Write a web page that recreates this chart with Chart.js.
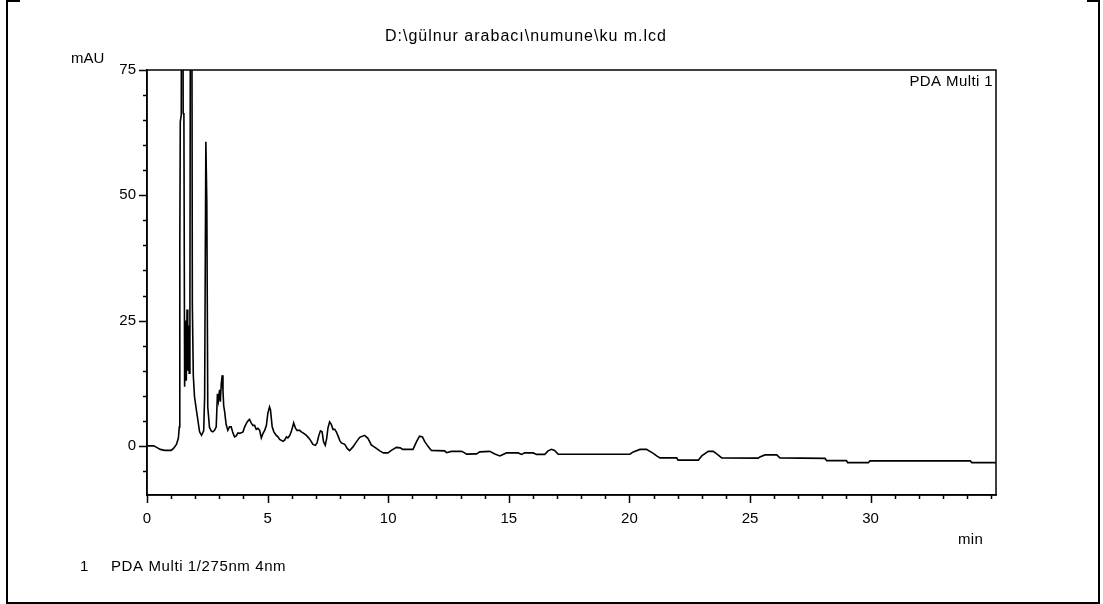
<!DOCTYPE html>
<html>
<head>
<meta charset="utf-8">
<script src="https://cdn.jsdelivr.net/npm/chart.js@4.4.1/dist/chart.umd.min.js"></script>
<style>
  html, body { margin: 0; padding: 0; background: #fff; }
  #wrap { width: 1103px; height: 604px; position: relative; }
</style>
</head>
<body>
<div id="wrap"><canvas id="c" width="1103" height="604"></canvas></div>
<script>
// Retention time (min)
const times = [
  0.00, 0.28, 0.40, 0.55, 0.73, 1.00, 1.10, 1.22, 1.30, 1.34,
  1.36, 1.38, 1.42, 1.46, 1.50, 1.53, 1.56, 1.60, 1.63, 1.66,
  1.69, 1.72, 1.75, 1.78, 1.83, 1.88, 1.92, 1.97, 2.05, 2.18,
  2.26, 2.35, 2.39, 2.44, 2.48, 2.52, 2.59, 2.66, 2.73, 2.80,
  2.87, 2.92, 2.96, 3.01, 3.04, 3.08, 3.12, 3.15, 3.18, 3.22,
  3.28, 3.35, 3.42, 3.49, 3.56, 3.63, 3.70, 3.77, 3.84, 3.91,
  3.98, 4.05, 4.12, 4.19, 4.25, 4.32, 4.39, 4.46, 4.53, 4.60,
  4.67, 4.74, 4.81, 4.88, 4.95, 5.01, 5.08, 5.12, 5.19, 5.26,
  5.36, 5.43, 5.50, 5.57, 5.64, 5.71, 5.78, 5.84, 5.91, 5.98,
  6.05, 6.08, 6.15, 6.22, 6.33, 6.40, 6.50, 6.61, 6.70, 6.78,
  6.88, 6.98, 7.05, 7.12, 7.19, 7.26, 7.32, 7.39, 7.45, 7.50,
  7.57, 7.64, 7.71, 7.78, 7.85, 7.92, 8.00, 8.06, 8.20, 8.30,
  8.40, 8.54, 8.68, 8.82, 9.02, 9.16, 9.30, 9.51, 9.65, 9.80,
  9.99, 10.13, 10.34, 10.50, 10.60, 11.03, 11.17, 11.30, 11.42, 11.51,
  11.65, 11.79, 12.34, 12.42, 12.62, 13.04, 13.17, 13.25, 13.66, 13.80,
  14.21, 14.42, 14.63, 14.76, 14.90, 15.39, 15.53, 15.66, 16.01, 16.15,
  16.49, 16.63, 16.77, 16.90, 17.05, 20.02, 20.16, 20.44, 20.71, 20.99,
  21.13, 21.27, 21.96, 22.02, 22.86, 23.00, 23.27, 23.48, 23.62, 23.83,
  25.34, 25.41, 25.62, 26.11, 26.24, 28.11, 28.18, 29.00, 29.05, 29.91,
  29.98, 34.13, 34.20, 35.20
];
// Absorbance (mAU) - PDA Multi 1 / 275nm
const mAU = [
  0, 0, -0.3, -0.7, -0.9, -0.9, -0.5, 0.3, 1.5, 3.8,
  40, 64.7, 66, 160, 66.4, 66, 11.8, 25, 13, 27.2,
  15, 24, 14.5, 28, 190, 28, 14, 9.8, 7.1, 2.8,
  2.1, 3.0, 9.8, 60.7, 48.7, 7.7, 3.7, 3.0, 2.8, 3.1,
  3.8, 10.4, 9.0, 11.2, 8.8, 12.5, 14.1, 11, 8, 6.8,
  4.3, 3.1, 3.8, 3.8, 2.6, 1.8, 2.0, 2.6, 2.5, 2.6,
  2.8, 3.8, 4.5, 5.0, 5.3, 4.6, 4.1, 4.1, 3.3, 3.5,
  3.1, 1.6, 2.5, 3.1, 4.1, 6.5, 7.8, 7.2, 3.8, 2.8,
  2.1, 1.8, 1.3, 1.1, 0.9, 1.2, 1.8, 1.6, 2.0, 2.8,
  4.0, 4.6, 3.6, 3.1, 3.1, 2.8, 2.5, 2.1, 1.6, 1.1,
  0.3, 0.1, 0.6, 2.0, 3.0, 2.8, 0.8, 0.1, 1.5, 3.5,
  4.8, 4.3, 3.3, 3.3, 2.8, 2.0, 1.0, 0.6, 0.3, -0.5,
  -0.95, -0.2, 0.8, 1.7, 2.1, 1.5, 0.2, -0.5, -1.0, -1.4,
  -1.4, -0.9, -0.3, -0.4, -0.7, -0.7, 0.8, 1.95, 1.8, 0.9,
  -0.1, -0.9, -1.0, -1.35, -1.1, -1.1, -1.4, -1.65, -1.6, -1.2,
  -1.1, -1.6, -2.0, -1.7, -1.4, -1.4, -1.7, -1.4, -1.4, -1.7,
  -1.7, -1.0, -0.68, -0.9, -1.66, -1.66, -1.2, -0.7, -0.7, -1.5,
  -2.0, -2.4, -2.4, -2.85, -2.85, -2.0, -1.1, -1.1, -1.6, -2.4,
  -2.45, -2.2, -1.8, -1.8, -2.4, -2.5, -2.95, -2.95, -3.35, -3.35,
  -3.0, -3.0, -3.35, -3.35
];
// Axis ticks
const xTickLabels = [0, 5, 10, 15, 20, 25, 30];
const xMinorTicks = [0,1,2,3,4,5,6,7,8,9,10,11,12,13,14,15,16,17,18,19,20,21,22,23,24,25,26,27,28,29,30,31,32,33,34,35];
const yTickLabels = [0, 25, 50, 75];
const yMinorTicks = [-5, 0, 5, 10, 15, 20, 25, 30, 35, 40, 45, 50, 55, 60, 65, 70, 75];

const titleText = 'D:\\gülnur arabacı\\numune\\ku m.lcd';
const FAMILY = '"Liberation Sans", Arial, sans-serif';

function txt(ctx, s, x, y, align, size, spacing) {
  ctx.font = size + 'px ' + FAMILY;
  if ('letterSpacing' in ctx) ctx.letterSpacing = spacing + 'px';
  ctx.textAlign = align;
  ctx.fillText(s, x, y);
}

const decor = {
  id: 'decor',
  afterDraw(chart) {
    const { ctx, chartArea: a, scales: { x, y } } = chart;
    ctx.save();
    ctx.strokeStyle = '#000';
    ctx.lineWidth = 1.5;
    // plot box
    ctx.strokeRect(a.left, a.top, a.right - a.left, a.bottom - a.top);
    // ticks
    ctx.beginPath();
    xMinorTicks.forEach(v => {
      const px = Math.round(x.getPixelForValue(v)) + 0.5;
      const len = xTickLabels.includes(v) ? 8 : 4;
      ctx.moveTo(px, a.bottom); ctx.lineTo(px, a.bottom + len);
    });
    yMinorTicks.forEach(v => {
      const py = Math.round(y.getPixelForValue(v)) + 0.5;
      const len = yTickLabels.includes(v) ? 8 : 4;
      ctx.moveTo(a.left, py); ctx.lineTo(a.left - len, py);
    });
    ctx.stroke();
    // outer frame
    ctx.lineWidth = 2;
    ctx.beginPath();
    ctx.moveTo(20, 1); ctx.lineTo(7, 1); ctx.lineTo(7, 603); ctx.lineTo(1099, 603); ctx.lineTo(1099, 1); ctx.lineTo(1087, 1);
    ctx.stroke();
    // texts
    ctx.fillStyle = '#000';
    ctx.textBaseline = 'middle';
    txt(ctx, titleText, 526, 37, 'center', 16, 1);
    txt(ctx, 'mAU', 71, 59, 'left', 15, 0);
    txt(ctx, 'min', 958, 540, 'left', 15, 0.3);
    txt(ctx, '1', 80, 567, 'left', 15, 0);
    txt(ctx, 'PDA Multi 1/275nm 4nm', 111, 567, 'left', 15, 0.6);
    txt(ctx, 'PDA Multi 1', a.right - 3, a.top + 12, 'right', 15, 0.4);
    ctx.restore();
  }
};

new Chart(document.getElementById('c'), {
  type: 'line',
  data: {
    datasets: [{
      data: times.map((t, i) => ({ x: t, y: mAU[i] })),
      borderColor: '#000',
      borderWidth: 1.6,
      pointRadius: 0,
      tension: 0,
      fill: false
    }]
  },
  options: {
    responsive: false,
    animation: false,
    devicePixelRatio: 1,
    layout: { padding: { left: 0, right: 107, top: 70, bottom: 0 } },
    plugins: { legend: { display: false }, tooltip: { enabled: false }, title: { display: false } },
    scales: {
      x: {
        type: 'linear', min: 0, max: 35.2,
        afterBuildTicks: s => { s.ticks = xTickLabels.map(v => ({ value: v })); },
        afterFit: s => { s.height = 109; },
        grid: { display: true, drawOnChartArea: false, drawTicks: true, tickLength: 8, color: 'rgba(0,0,0,0)' },
        border: { display: true, color: '#000', width: 1.5 },
        ticks: { color: '#000', font: { family: FAMILY, size: 15 }, padding: 7, maxRotation: 0, autoSkip: false }
      },
      y: {
        type: 'linear', min: -9.8, max: 75,
        afterBuildTicks: s => { s.ticks = yTickLabels.map(v => ({ value: v })); },
        afterFit: s => { s.width = 147; },
        grid: { display: true, drawOnChartArea: false, drawTicks: true, tickLength: 8, color: 'rgba(0,0,0,0)' },
        border: { display: true, color: '#000', width: 1.5 },
        ticks: { color: '#000', font: { family: FAMILY, size: 15 }, padding: 3, autoSkip: false }
      }
    }
  },
  plugins: [decor]
});
</script>
</body>
</html>
